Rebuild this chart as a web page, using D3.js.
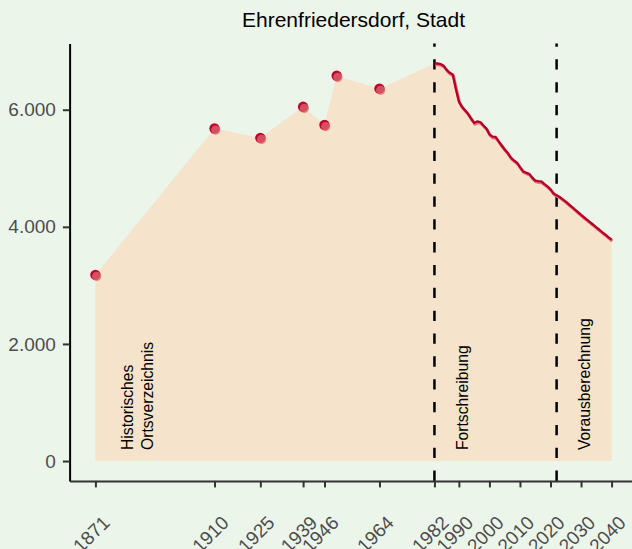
<!DOCTYPE html>
<html>
<head>
<meta charset="utf-8">
<script src="https://cdn.jsdelivr.net/npm/d3@7"></script>
<style>
  html, body { margin: 0; padding: 0; background: #ecf5ea; }
  svg { display: block; font-family: "Liberation Sans", Arial, sans-serif; }
</style>
</head>
<body>
<svg id="chart" width="632" height="549"></svg>
<script>
// ---- data ----
const title = "Ehrenfriedersdorf, Stadt";

// historical census points (Historisches Ortsverzeichnis)
const histYears  = [1871, 1910, 1925, 1939, 1946, 1950, 1964];
const histValues = [3180, 5680, 5520, 6050, 5740, 6580, 6360];

// annual update (Fortschreibung)
const fortYears  = [1982, 1983, 1984, 1985, 1986, 1987, 1988, 1989, 1990, 1991,
                    1992, 1993, 1994, 1995, 1996, 1997, 1998, 1999, 2000, 2001,
                    2002, 2003, 2004, 2005, 2006, 2007, 2008, 2009, 2010, 2011,
                    2012, 2013, 2014, 2015, 2016, 2017, 2018, 2019, 2020, 2021, 2022];
const fortValues = [6790, 6790, 6780, 6750, 6680, 6630, 6600, 6360, 6140, 6050,
                    5990, 5930, 5850, 5775, 5800, 5790, 5730, 5680, 5580, 5540,
                    5535, 5460, 5390, 5320, 5260, 5180, 5135, 5095, 5020, 4950,
                    4925, 4905, 4840, 4790, 4780, 4775, 4730, 4690, 4640, 4570, 4540];

// projection (Vorausberechnung)
const projYears  = [2023, 2024, 2025, 2026, 2027, 2028, 2029, 2030, 2031, 2032,
                    2033, 2034, 2035, 2036, 2037, 2038, 2039, 2040];
const projValues = [4510, 4470, 4430, 4385, 4340, 4295, 4250, 4205, 4160, 4120,
                    4075, 4035, 3990, 3950, 3905, 3865, 3820, 3780];

const breakYears = [1982, 2022];
const periodLabels = ["Historisches\nOrtsverzeichnis", "Fortschreibung", "Vorausberechnung"];
const periodStarts = [1871, 1982, 2022];

const xTickYears = [1871, 1910, 1925, 1939, 1946, 1964, 1982, 1990, 2000, 2010, 2020, 2030, 2040];
const yTickValues = [0, 2000, 4000, 6000];

// ---- build combined series ----
const histSeries = histYears.map((y, i) => ({year: y, value: histValues[i]}));
const lineSeries = fortYears.map((y, i) => ({year: y, value: fortValues[i]}))
  .concat(projYears.map((y, i) => ({year: y, value: projValues[i]})));
const areaSeries = histSeries.concat(lineSeries);

// ---- scales (ggplot-like 5% expansion) ----
const svg = d3.select("#chart");
const W = 632, H = 549;
const panel = {left: 69.6, right: 637.4, top: 43.6, bottom: 480.9};

const xMin = d3.min(areaSeries, d => d.year), xMax = d3.max(areaSeries, d => d.year);
const xPad = (xMax - xMin) * 0.05;
const x = d3.scaleLinear().domain([xMin - xPad, xMax + xPad]).range([panel.left, panel.right]);

const yMax = d3.max(areaSeries, d => d.value);
const yPad = yMax * 0.05;
const y = d3.scaleLinear().domain([-yPad, yMax + yPad]).range([panel.bottom, panel.top]);

// background
svg.append("rect").attr("width", W).attr("height", H).attr("fill", "#ecf5ea");

// area
const area = d3.area().x(d => x(d.year)).y0(y(0)).y1(d => y(d.value));
svg.append("path").datum(areaSeries).attr("d", area).attr("fill", "#f5e3cb");

// period labels
const fmtLabelSize = 15.7;
periodLabels.forEach((lab, i) => {
  const lines = lab.split("\n");
  const baseX = x(periodStarts[i]) + (lines.length > 1 ? 37.6 : 33.2);
  lines.forEach((ln, j) => {
    svg.append("text")
      .attr("transform", `translate(${baseX + j * 20.3},${y(0) - 11}) rotate(-90)`)
      .attr("font-size", fmtLabelSize)
      .attr("fill", "#000")
      .text(ln);
  });
});

// dashed vertical lines (pattern starting at the bottom)
breakYears.forEach(b => {
  svg.append("line")
    .attr("x1", x(b)).attr("x2", x(b))
    .attr("y1", panel.bottom).attr("y2", panel.top)
    .attr("stroke", "#000").attr("stroke-width", 2.5)
    .attr("stroke-dasharray", "10.3,12.55");
});

// line (light shadow + dark)
const line = d3.line().x(d => x(d.year)).y(d => y(d.value));
svg.append("path").datum(lineSeries).attr("d", line)
  .attr("fill", "none").attr("stroke", "#e0707c").attr("stroke-width", 3)
  .attr("transform", "translate(0.8,1.3)").attr("stroke-linejoin", "round");
svg.append("path").datum(lineSeries).attr("d", line)
  .attr("fill", "none").attr("stroke", "#b50026").attr("stroke-width", 2.3)
  .attr("stroke-linejoin", "round");

// points
svg.selectAll("circle.dark").data(histSeries).enter().append("circle")
  .attr("class", "dark")
  .attr("cx", d => x(d.year)).attr("cy", d => y(d.value)).attr("r", 5.2)
  .attr("fill", "#c0002a");
svg.selectAll("circle.light").data(histSeries).enter().append("circle")
  .attr("class", "light")
  .attr("cx", d => x(d.year) + 1.2).attr("cy", d => y(d.value) + 1.6).attr("r", 4.6)
  .attr("fill", "#dc6a72").attr("fill-opacity", 0.75);

// axes
const fmt = d3.formatLocale({decimal: ",", thousands: ".", grouping: [3], currency: ["", "€"]}).format(",d");

const yAxis = svg.append("g").attr("transform", `translate(${panel.left},0)`)
  .call(d3.axisLeft(y).tickValues(yTickValues).tickFormat(fmt).tickSize(6.7).tickSizeOuter(0).tickPadding(7));
yAxis.select(".domain").attr("stroke", "#000").attr("stroke-width", 2);
yAxis.selectAll(".tick line").attr("stroke", "#333").attr("stroke-width", 2);
yAxis.selectAll(".tick text").attr("fill", "#4d4d4d").attr("font-size", 19)
  .attr("font-family", "Liberation Sans, Arial, sans-serif");

const xAxis = svg.append("g").attr("transform", `translate(0,${panel.bottom})`)
  .call(d3.axisBottom(x).tickValues(xTickYears).tickFormat(d3.format("d")).tickSize(6.5).tickSizeOuter(0));
xAxis.select(".domain").attr("stroke", "#333").attr("stroke-width", 2);
xAxis.selectAll(".tick line").attr("stroke", "#333").attr("stroke-width", 2);
xAxis.selectAll(".tick text")
  .attr("x", 0).attr("y", 0).attr("dy", 0)
  .attr("transform", "translate(15,43) rotate(-45)")
  .attr("text-anchor", "end")
  .attr("fill", "#4d4d4d").attr("font-size", 19)
  .attr("font-family", "Liberation Sans, Arial, sans-serif");

// title
svg.append("text")
  .attr("x", (panel.left + panel.right) / 2).attr("y", 27.3)
  .attr("text-anchor", "middle").attr("font-size", 21).attr("fill", "#000")
  .text(title);
</script>
</body>
</html>
